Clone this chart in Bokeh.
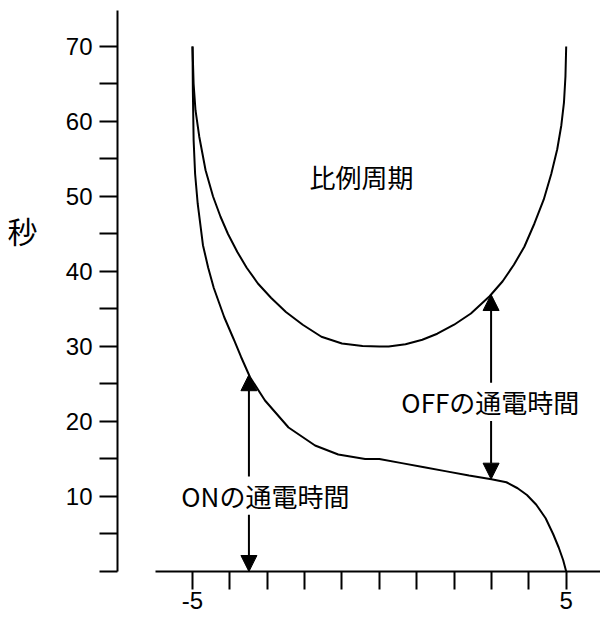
from bokeh.plotting import figure
from bokeh.models import (Range1d, FixedTicker, Arrow, NormalHead, ColumnDataSource, LinearAxis)
from bokeh.core.properties import value
from bokeh.embed import file_html
from bokeh.resources import INLINE
import numpy as np

# ---- data ----
upper_x = [-5.00, -4.97, -4.92, -4.82, -4.65, -4.45, -4.25, -4.05, -3.80, -3.55, -3.25,
           -2.90, -2.50, -2.05, -1.55, -1.00, -0.45, 0.00, 0.25, 0.70, 1.15, 1.55, 2.00,
           2.45, 2.95, 3.30, 3.60, 3.88, 4.15, 4.40, 4.60, 4.76, 4.87, 4.94, 4.98, 5.00]
upper_y = [70.0, 65.0, 61.5, 58.0, 53.5, 50.0, 47.3, 45.0, 42.6, 40.5, 38.4,
           36.5, 34.6, 32.9, 31.3, 30.4, 30.05, 30.0, 30.0, 30.3, 30.9, 31.7, 32.9,
           34.4, 36.7, 38.7, 40.9, 43.3, 46.4, 49.6, 53.0, 56.3, 59.5, 62.5, 66.0, 70.0]

lower_x = [-5.00, -4.99, -4.97, -4.93, -4.86, -4.72, -4.58, -4.43, -4.15, -3.90, -3.70,
           -3.46, -3.06, -2.43, -1.72, -1.10, -0.38, 0.00, 0.60, 1.20, 1.80, 2.40, 3.00,
           3.40, 3.70, 3.95, 4.20, 4.45, 4.65, 4.80, 4.92, 5.00]
lower_y = [70.0, 64.0, 57.5, 53.0, 49.0, 43.5, 40.5, 37.8, 33.9, 31.0, 28.6,
           25.9, 22.8, 19.2, 16.8, 15.6, 15.0, 15.0, 14.45, 13.9, 13.35, 12.8, 12.3,
           11.9, 11.1, 10.2, 8.9, 7.1, 5.0, 3.2, 1.5, 0.0]

y_ticks = [0, 10, 20, 30, 40, 50, 60, 70]
y_minor_ticks = [5, 15, 25, 35, 45, 55, 65]
y_tick_labels = ["", "10", "20", "30", "40", "50", "60", "70"]
x_ticks = [-5, -4, -3, -2, -1, 0, 1, 2, 3, 4, 5]
x_tick_labels = ["-5", "", "", "", "", "", "", "", "", "", "5"]

y_axis_title = "秒"
period_label = "比例周期"
on_label = "ONの通電時間"
off_label = "OFFの通電時間"

# annotation placement
on_x = -3.49
off_x = 2.99
on_label_pos = (-3.05, 10.1)
off_label_pos = (2.97, 22.6)
period_label_pos = (-0.48, 52.6)
gap = 2.55

CJK = "Noto Sans CJK JP"
LAT = "Liberation Sans"

p = figure(width=600, height=618, output_backend="svg", toolbar_location=None,
           x_range=Range1d(-7.007, 5.918), y_range=Range1d(0, 76.13),
           min_border_left=117, min_border_right=0, min_border_top=0, min_border_bottom=47,
           background_fill_color="white", border_fill_color="white")
p.outline_line_color = None
p.grid.visible = False

# axes
xa = p.xaxis[0]
xa.ticker = FixedTicker(ticks=x_ticks, minor_ticks=[])
xa.bounds = (-6.0, 5.918)
xa.major_label_overrides = {t: l for t, l in zip(x_ticks, x_tick_labels)}
xa.major_tick_in = 0
xa.major_tick_out = 18
xa.minor_tick_in = 0
xa.minor_tick_out = 0
xa.axis_line_width = 2
xa.major_tick_line_width = 2
xa.axis_line_color = "black"
xa.major_tick_line_color = "black"
xa.major_label_text_font = LAT
xa.major_label_text_font_size = "24px"
xa.major_label_text_color = "black"
xa.major_label_standoff = 2

ya = p.yaxis[0]
ya.ticker = FixedTicker(ticks=y_ticks, minor_ticks=y_minor_ticks)
ya.bounds = (0, 74.8)
ya.major_label_overrides = {t: l for t, l in zip(y_ticks, y_tick_labels)}
ya.major_tick_in = 0
ya.major_tick_out = 18
ya.minor_tick_in = 0
ya.minor_tick_out = 18
ya.axis_line_width = 2
ya.major_tick_line_width = 2
ya.minor_tick_line_width = 2
ya.axis_line_color = "black"
ya.major_tick_line_color = "black"
ya.minor_tick_line_color = "black"
ya.major_label_text_font = LAT
ya.major_label_text_font_size = "24px"
ya.major_label_text_color = "black"
ya.major_label_standoff = 7

# second, bare axis that only carries the horizontal title "秒";
# an empty second line lifts the title above the panel centre
title_axis = LinearAxis(ticker=FixedTicker(ticks=[]),
                        axis_line_color=None, major_tick_line_color=None,
                        minor_tick_line_color=None, major_label_text_font_size="0px",
                        axis_label=y_axis_title + "\n ", axis_label_orientation="horizontal",
                        axis_label_standoff=25, axis_label_text_font=CJK,
                        axis_label_text_font_size="30px", axis_label_text_font_style="normal",
                        axis_label_text_line_height=2.55,
                        axis_label_text_color="black")
p.add_layout(title_axis, "left")

# curves
p.line(upper_x, upper_y, line_color="black", line_width=2)
p.line(lower_x, lower_y, line_color="black", line_width=2)

# arrows (tips)
on_top = float(np.interp(on_x, lower_x, lower_y))
off_top = float(np.interp(off_x, upper_x, upper_y))
off_bot = float(np.interp(off_x, lower_x, lower_y))
arrow_src = ColumnDataSource(dict(
    x0=[on_x, on_x, off_x, off_x],
    y0=[on_label_pos[1] + gap, on_label_pos[1] - gap, off_label_pos[1] + gap, off_label_pos[1] - gap],
    x1=[on_x, on_x, off_x, off_x],
    y1=[on_top, 0, off_top, off_bot],
))
p.add_layout(Arrow(source=arrow_src, x_start="x0", y_start="y0", x_end="x1", y_end="y1",
                   line_color="black", line_width=2,
                   end=NormalHead(size=16, fill_color="black", line_color="black", line_width=1)))

# texts
p.text(x=[period_label_pos[0], on_label_pos[0], off_label_pos[0]],
       y=[period_label_pos[1], on_label_pos[1], off_label_pos[1]],
       text=[period_label, on_label, off_label],
       text_font=value(CJK), text_font_size="26px", text_color="black",
       text_align="center", text_baseline="middle")

open("out.html", "w").write(file_html(p, INLINE))
